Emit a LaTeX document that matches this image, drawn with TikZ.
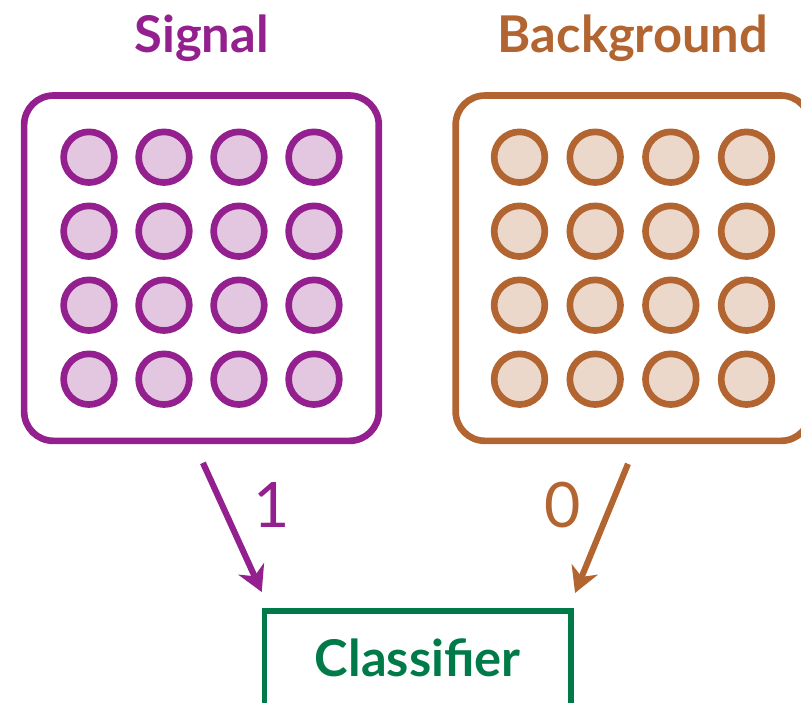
\documentclass[tikz,border=0pt]{standalone}
\usepackage{fontspec}
\setmainfont{Lato}
\usetikzlibrary{positioning, arrows.meta}

\definecolor{sigpurple}{RGB}{147,32,142}
\definecolor{sigfill}{RGB}{227,199,225}
\definecolor{bkgbrown}{RGB}{178,101,48}
\definecolor{bkgfill}{RGB}{235,216,203}
\definecolor{clfgreen}{RGB}{0,122,72}

\begin{document}
\begin{tikzpicture}[
    x=1pt, y=1pt,
    samplebox/.style={rectangle, rounded corners=22pt, line width=5pt, minimum width=266pt, minimum height=259pt, inner sep=0pt},
    pixel/.style={circle, line width=5pt, minimum size=38pt, inner sep=0pt},
    title/.style={font=\fontsize{38}{40}\selectfont\bfseries},
    truth/.style={font=\fontsize{47}{50}\selectfont, inner sep=0pt},
    feed/.style={line width=4.6pt, -{Stealth[length=19pt, width=21pt, inset=6pt]}}
]

\clip (0,0) rectangle (600.75,527.25);

% Sample boxes
\node[samplebox, draw=sigpurple] (sigbox) at (151.1,326.1) {};
\node[samplebox, draw=bkgbrown] (bkgbox) at (474.75,326.1) {};

% Titles
\node[title, text=sigpurple, above=30pt of sigbox, anchor=base] (sigtitle) {Signal};
\node[title, text=bkgbrown, above=30pt of bkgbox, anchor=base] (bkgtitle) {Background};

% Pixel grids
\foreach \i in {0,...,3} {
  \foreach \j in {0,...,3} {
    \node[pixel, draw=sigpurple, fill=sigfill] (sig-\i-\j)
      at ([xshift={(\i-1.5)*56.25pt}, yshift={(1.5-\j)*55.5pt}]sigbox.center) {};
    \node[pixel, draw=bkgbrown, fill=bkgfill] (bkg-\i-\j)
      at ([xshift={(\i-1.5)*56.75pt}, yshift={(1.5-\j)*55.5pt}]bkgbox.center) {};
  }
}

% Classifier
\node[draw=clfgreen, line width=4.1pt, minimum width=229.9pt, text height=49.5pt, text depth=40pt, inner sep=0pt,
      text=clfgreen, font=\fontsize{38}{40}\selectfont\bfseries, anchor=base] (clf) at (313.3,19.5) {Classifier};

% Labelled inputs
\draw[feed, sigpurple] ([xshift=1.1pt, yshift=-14pt]sigbox.south) -- ([yshift=12.2pt]clf.north west)
  node[truth, midway, xshift=29.6pt, yshift=16.9pt, text=sigpurple] (sigtag) {1};
\draw[feed, bkgbrown] ([xshift=-3.75pt, yshift=-14.75pt]bkgbox.south) -- ([xshift=1pt, yshift=11.5pt]clf.north east)
  node[truth, midway, xshift=-28.9pt, yshift=17.6pt, text=bkgbrown] (bkgtag) {0};

\end{tikzpicture}
\end{document}
